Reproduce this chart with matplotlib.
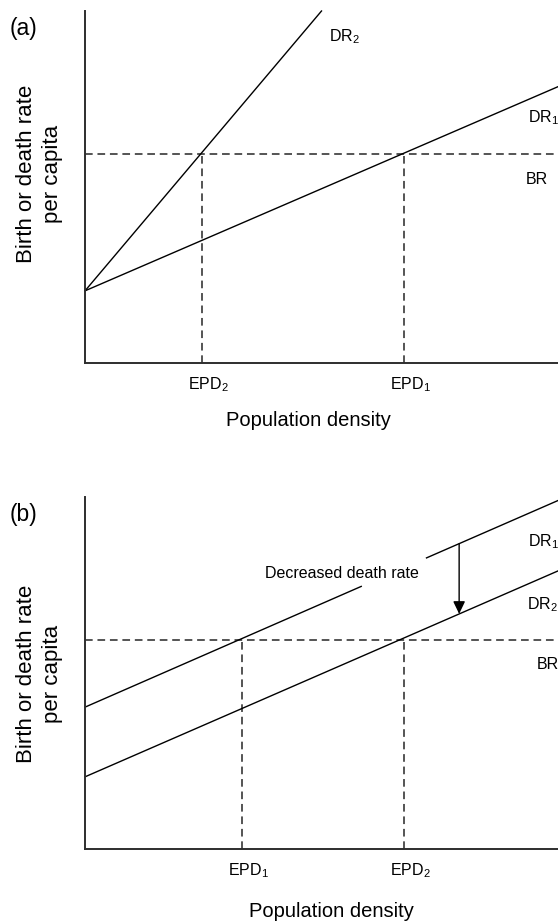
import matplotlib
matplotlib.use("Agg")
import matplotlib.pyplot as plt
from matplotlib.transforms import ScaledTranslation

plt.rcParams['font.family'] = ['Liberation Sans', 'DejaVu Sans']
plt.rcParams['mathtext.fontset'] = 'custom'
plt.rcParams['mathtext.rm'] = 'Liberation Sans'

# panel (a): same birth rate, DR2 much steeper than DR1
a_br = 5.94
a_dr1_x = [0, 10]
a_dr1_y = [2.05, 7.85]
a_dr2_x = [0, 5.0]
a_dr2_y = [2.05, 10.0]
a_epd = [2.47, 6.74]
a_epd_labels = [r'EPD$_\mathregular{2}$', r'EPD$_\mathregular{1}$']

# panel (b): parallel death-rate lines, DR1 broken where the note sits
b_br = 5.94
b_dr1_x = [[0, 5.84], [7.22, 10]]
b_dr1_y = [[4.03, 7.46], [8.27, 9.9]]
b_dr2_x = [0, 10]
b_dr2_y = [2.05, 7.9]
b_epd = [3.31, 6.74]
b_epd_labels = [r'EPD$_\mathregular{1}$', r'EPD$_\mathregular{2}$']
b_arrow_x = 7.91
b_arrow_y = [8.67, 6.68]

INK = '#000000'
GREY = '#2e2e2e'
DASH = (4.8, 3.0)


def base_axes(ax, br, epd, epd_labels):
    ax.set_xlim(0, 10)
    ax.set_ylim(0, 10)
    for side in ['top', 'right']:
        ax.spines[side].set_visible(False)
    for side in ['left', 'bottom']:
        ax.spines[side].set_color(GREY)
        ax.spines[side].set_linewidth(1.4)
    ax.set_yticks([])
    ax.set_xticks(epd, epd_labels, fontsize=11.5)
    ax.tick_params(axis='x', length=0, pad=9)
    offset = ScaledTranslation(5 / 72, 0, ax.figure.dpi_scale_trans)
    for lab in ax.get_xticklabels():
        lab.set_transform(lab.get_transform() + offset)

    # birth rate and equilibrium drop lines
    ax.plot([0, 10], [br, br], color=GREY, lw=1.15, dashes=DASH, clip_on=False)
    for x in epd:
        ax.plot([x, x], [0, br], color=GREY, lw=1.15, dashes=DASH)


fig = plt.figure(figsize=(5.58, 9.23), dpi=100)
W, H = 558, 923
ax_a = fig.add_axes([85 / W, 1 - 363 / H, 473 / W, 352 / H])
ax_b = fig.add_axes([85 / W, 1 - 849 / H, 473 / W, 352 / H])

# ---- (a)
base_axes(ax_a, a_br, a_epd, a_epd_labels)
ax_a.plot(a_dr1_x, a_dr1_y, color=INK, lw=1.0, clip_on=False)
ax_a.plot(a_dr2_x, a_dr2_y, color=INK, lw=1.0, clip_on=False)
ax_a.text(5.16, 9.26, r'DR$_\mathregular{2}$', fontsize=11.5, va='center')
ax_a.text(9.37, 6.96, r'DR$_\mathregular{1}$', fontsize=11.5, va='center', clip_on=False)
ax_a.text(9.32, 5.2, 'BR', fontsize=11.5, va='center', clip_on=False)

# ---- (b)
base_axes(ax_b, b_br, b_epd, b_epd_labels)
for xs, ys in zip(b_dr1_x, b_dr1_y):
    ax_b.plot(xs, ys, color=INK, lw=1.0, clip_on=False)
ax_b.plot(b_dr2_x, b_dr2_y, color=INK, lw=1.0, clip_on=False)
ax_b.annotate('', xy=(b_arrow_x, b_arrow_y[1]), xytext=(b_arrow_x, b_arrow_y[0]),
              arrowprops=dict(arrowstyle='-|>,head_length=0.75,head_width=0.36',
                              color=INK, lw=1.0, shrinkA=0, shrinkB=0))
ax_b.text(5.43, 7.84, 'Decreased death rate', fontsize=11.5, ha='center', va='center')
ax_b.text(9.37, 8.72, r'DR$_\mathregular{1}$', fontsize=11.5, va='center', clip_on=False)
ax_b.text(9.34, 6.93, r'DR$_\mathregular{2}$', fontsize=11.5, va='center', clip_on=False)
ax_b.text(9.56, 5.23, 'BR', fontsize=11.5, va='center', clip_on=False)

# axis titles and panel letters
for ax, xlab_x, xlab_y, ylab_y in [(ax_a, 0.473, -0.135, 0.537), (ax_b, 0.522, -0.15, 0.497)]:
    ax.set_xlabel('Population density', fontsize=14.5)
    ax.xaxis.set_label_coords(xlab_x, xlab_y)
    ax.text(-0.096, ylab_y, 'Birth or death rate\nper capita', transform=ax.transAxes,
            rotation=90, ha='center', va='center', multialignment='center',
            fontsize=16, linespacing=1.3)

fig.text(10 / W, 1 - 29 / H, '(a)', fontsize=16.5, ha='left', va='center')
fig.text(10 / W, 1 - 515 / H, '(b)', fontsize=16.5, ha='left', va='center')

fig.savefig('out.png', dpi=100)
